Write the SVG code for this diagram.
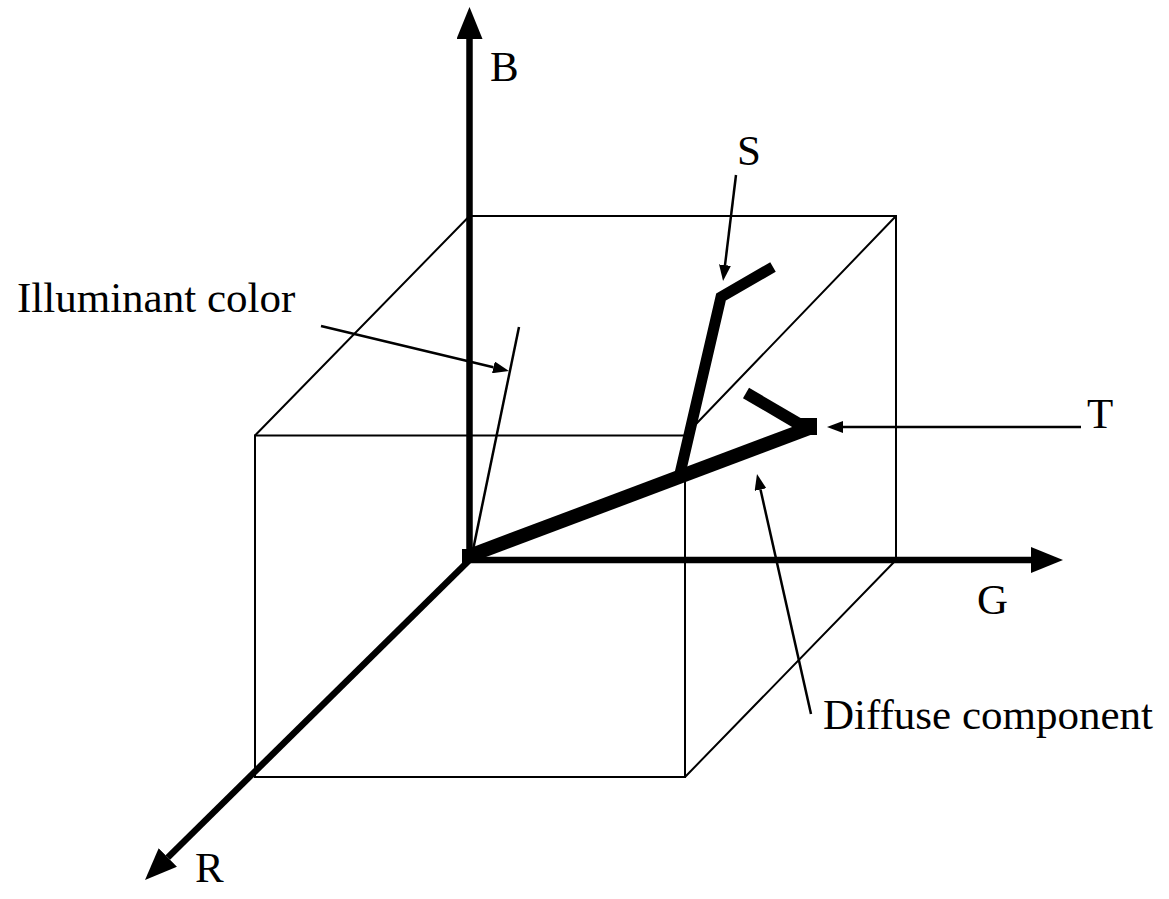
<svg xmlns="http://www.w3.org/2000/svg" width="1169" height="899" viewBox="0 0 1169 899">
<style>
.thin{stroke:#000;stroke-width:2;fill:none}
.axis{stroke:#000;stroke-width:6.5;fill:none}
.ptr{stroke:#000;stroke-width:2.5;fill:none}
.thick{stroke:#000;fill:none;stroke-linejoin:miter;stroke-linecap:butt}
.lbl{font-family:"Liberation Serif","Times New Roman",serif;font-size:43px;fill:#000}
</style>
<defs>
<marker id="big" viewBox="0 -13 32 26" refX="0" refY="0" markerWidth="32" markerHeight="26" markerUnits="userSpaceOnUse" orient="auto"><path d="M0,-13 L32,0 L0,13 z" fill="#000"/></marker>
<marker id="small" viewBox="0 -6 16 12" refX="0" refY="0" markerWidth="16" markerHeight="12" markerUnits="userSpaceOnUse" orient="auto"><path d="M0,-6 L16,0 L0,6 z" fill="#000"/></marker>
</defs>
<g id="cube">
<rect class="thin" x="255" y="435.5" width="430" height="341.5"/>
<path class="thin" d="M469.5,216 L896,216 L896,560 M469.5,216 L255,435.5 M896,216 L685,435.5 M896,560 L685,777"/>
</g>
<g id="axes">
<line class="axis" x1="469.5" y1="560" x2="469.5" y2="39" marker-end="url(#big)"/>
<line class="axis" x1="469.5" y1="560" x2="1031" y2="560" marker-end="url(#big)"/>
<line class="axis" x1="469.5" y1="560" x2="167.8" y2="857.5" marker-end="url(#big)"/>
</g>
<g id="illuminant-line">
<line class="ptr" x1="473" y1="550" x2="519" y2="327"/>
</g>
<g id="diffuse-line">
<path class="thick" stroke-width="14" d="M469,556 L812,427"/>
<rect x="462" y="549" width="15" height="14" fill="#000"/>
</g>
<g id="T-vector">
<path class="thick" stroke-width="12" d="M746,393 L804,427"/>
<rect x="797" y="418" width="20" height="17" fill="#000"/>
</g>
<g id="S-vector">
<path class="thick" stroke-width="11" d="M679,478 L721,297 L773,267"/>
</g>
<g id="connectors">
<line class="ptr" x1="321" y1="326" x2="493.4" y2="367.3" marker-end="url(#small)"/>
<line class="ptr" x1="736" y1="175" x2="725" y2="265.1" marker-end="url(#small)"/>
<line class="ptr" x1="1081" y1="427" x2="843" y2="427" marker-end="url(#small)"/>
<line class="ptr" x1="811" y1="714" x2="760.5" y2="489.6" marker-end="url(#small)"/>
</g>
<g id="labels">
<text class="lbl" x="490" y="81">B</text>
<text class="lbl" x="737" y="165">S</text>
<text class="lbl" x="17" y="312">Illuminant color</text>
<text class="lbl" x="1087" y="428">T</text>
<text class="lbl" x="977" y="614">G</text>
<text class="lbl" x="823" y="729">Diffuse component</text>
<text class="lbl" x="195" y="882">R</text>
</g>
</svg>
